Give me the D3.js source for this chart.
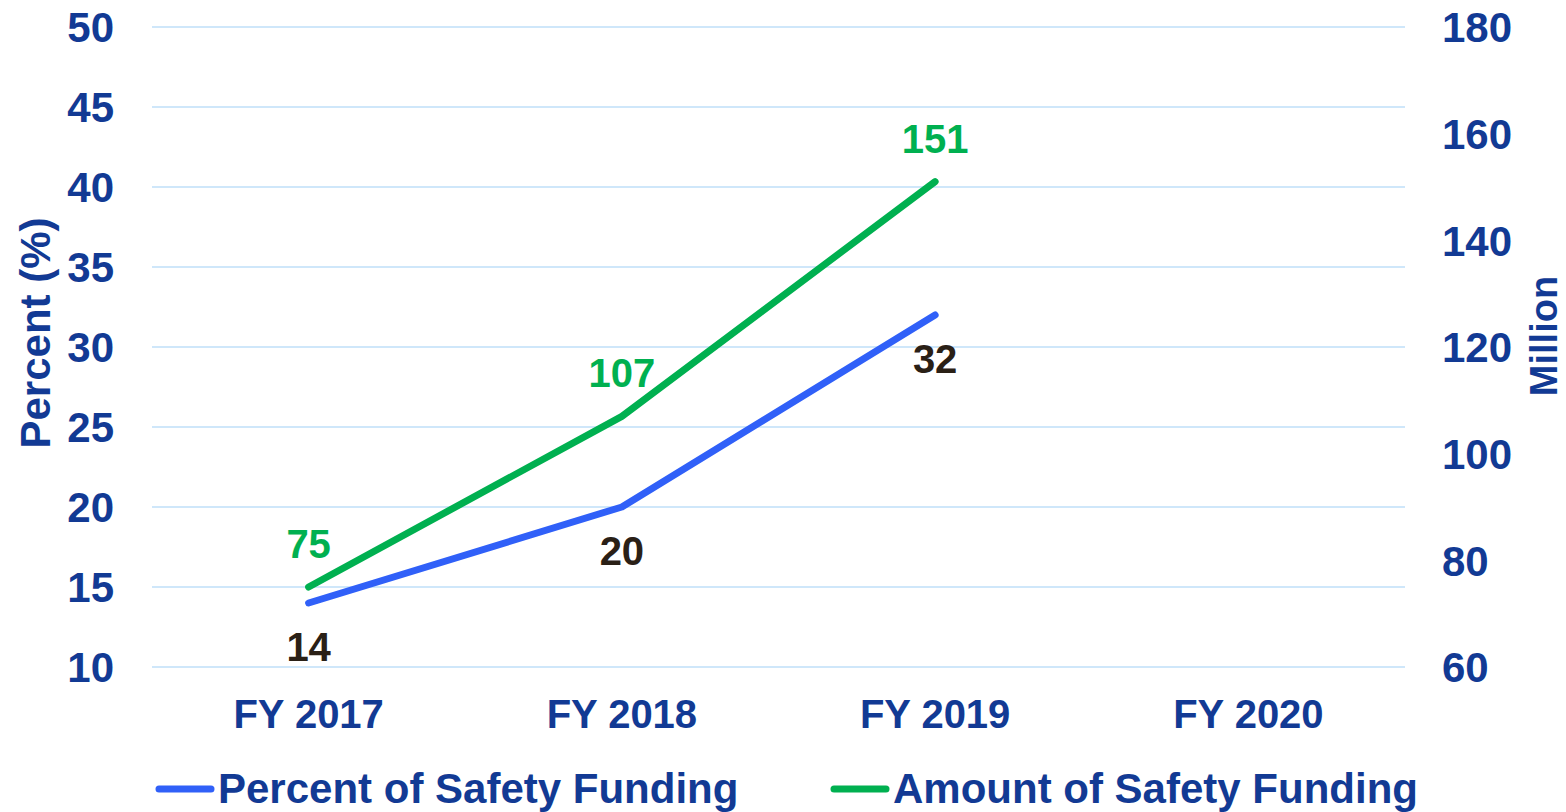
<!DOCTYPE html>
<html>
<head>
<meta charset="utf-8">
<script src="https://cdn.jsdelivr.net/npm/d3@7"></script>
<style>
  body { margin: 0; background: #fff; }
  svg text { font-family: "Liberation Sans", Arial, sans-serif; font-weight: bold; }
</style>
</head>
<body>
<div id="chart"></div>
<script>
var years = ["FY 2017", "FY 2018", "FY 2019", "FY 2020"];
var percentValues = [14, 20, 32];
var amountValues = [75, 107, 151];
var leftTicks = [10, 15, 20, 25, 30, 35, 40, 45, 50];
var rightTicks = [60, 80, 100, 120, 140, 160, 180];
var seriesNames = ["Percent of Safety Funding", "Amount of Safety Funding"];

var W = 1566, H = 812;
var margin = {top: 27, bottom: 145, left: 152, right: 161};

var navy = "#123a94", blue = "#3060f8", green = "#00b050", dark = "#2a2016", grid = "#cfe7fa";

var svg = d3.select("#chart").append("svg")
    .attr("width", W)
    .attr("height", H);

var x = d3.scaleBand()
    .domain(years)
    .range([margin.left, W - margin.right]);

var yL = d3.scaleLinear()
    .domain([10, 50])
    .range([H - margin.bottom, margin.top]);

var yR = d3.scaleLinear()
    .domain([60, 180])
    .range([H - margin.bottom, margin.top]);

// gridlines
svg.append("g")
  .selectAll("line")
  .data(leftTicks)
  .join("line")
    .attr("x1", margin.left)
    .attr("x2", W - margin.right)
    .attr("y1", function(d) { return yL(d); })
    .attr("y2", function(d) { return yL(d); })
    .style("stroke", grid)
    .style("stroke-width", 2);

// left axis
var gL = svg.append("g")
    .attr("transform", "translate(" + (margin.left - 38) + ",0)")
    .call(d3.axisLeft(yL).tickValues(leftTicks).tickSize(0).tickPadding(0));
gL.select(".domain").remove();
gL.selectAll("text").style("font-size", "42px").style("fill", navy).attr("dy", "0.35em");

// right axis
var gR = svg.append("g")
    .attr("transform", "translate(" + (W - margin.right + 37) + ",0)")
    .call(d3.axisRight(yR).tickValues(rightTicks).tickSize(0).tickPadding(0));
gR.select(".domain").remove();
gR.selectAll("text").style("font-size", "42px").style("fill", navy).attr("dy", "0.35em");

// x axis
var gX = svg.append("g")
    .attr("transform", "translate(0," + (H - margin.bottom) + ")")
    .call(d3.axisBottom(x).tickSize(0).tickPadding(0));
gX.select(".domain").remove();
gX.selectAll("text").style("font-size", "40px").style("fill", navy).attr("dy", "61px");

// axis titles
svg.append("text")
    .attr("transform", "translate(50,333) rotate(-90)")
    .attr("text-anchor", "middle")
    .style("font-size", "42px")
    .style("fill", navy)
    .text("Percent (%)");

svg.append("text")
    .attr("transform", "translate(1557,336) rotate(-90)")
    .attr("text-anchor", "middle")
    .style("font-size", "38px")
    .style("fill", navy)
    .text("Million");

var cx = function(d, i) { return x(years[i]) + x.bandwidth() / 2; };

var lineL = d3.line().x(cx).y(function(d) { return yL(d); });
var lineR = d3.line().x(cx).y(function(d) { return yR(d); });

svg.append("path")
    .datum(percentValues)
    .attr("d", lineL)
    .style("fill", "none")
    .style("stroke", blue)
    .style("stroke-width", 7)
    .style("stroke-linecap", "round")
    .style("stroke-linejoin", "round");

svg.append("path")
    .datum(amountValues)
    .attr("d", lineR)
    .style("fill", "none")
    .style("stroke", green)
    .style("stroke-width", 7)
    .style("stroke-linecap", "round")
    .style("stroke-linejoin", "round");

// data labels
svg.append("g")
  .selectAll("text")
  .data(percentValues)
  .join("text")
    .attr("x", cx)
    .attr("y", function(d) { return yL(d) + 58; })
    .attr("text-anchor", "middle")
    .style("font-size", "40px")
    .style("fill", dark)
    .text(function(d) { return d; });

svg.append("g")
  .selectAll("text")
  .data(amountValues)
  .join("text")
    .attr("x", cx)
    .attr("y", function(d) { return yR(d) - 29; })
    .attr("text-anchor", "middle")
    .style("font-size", "40px")
    .style("fill", green)
    .text(function(d) { return d; });

// legend
var legendX = [157, 832];
var legendColors = [blue, green];
var leg = svg.append("g")
  .selectAll("g")
  .data(seriesNames)
  .join("g")
    .attr("transform", function(d, i) { return "translate(" + legendX[i] + ",789)"; });

leg.append("line")
    .attr("x1", 2).attr("x2", 54)
    .style("stroke", function(d, i) { return legendColors[i]; })
    .style("stroke-width", 7)
    .style("stroke-linecap", "round");

leg.append("text")
    .attr("x", 61)
    .attr("y", 14)
    .style("font-size", "42px")
    .style("fill", navy)
    .text(function(d) { return d; });
</script>
</body>
</html>
